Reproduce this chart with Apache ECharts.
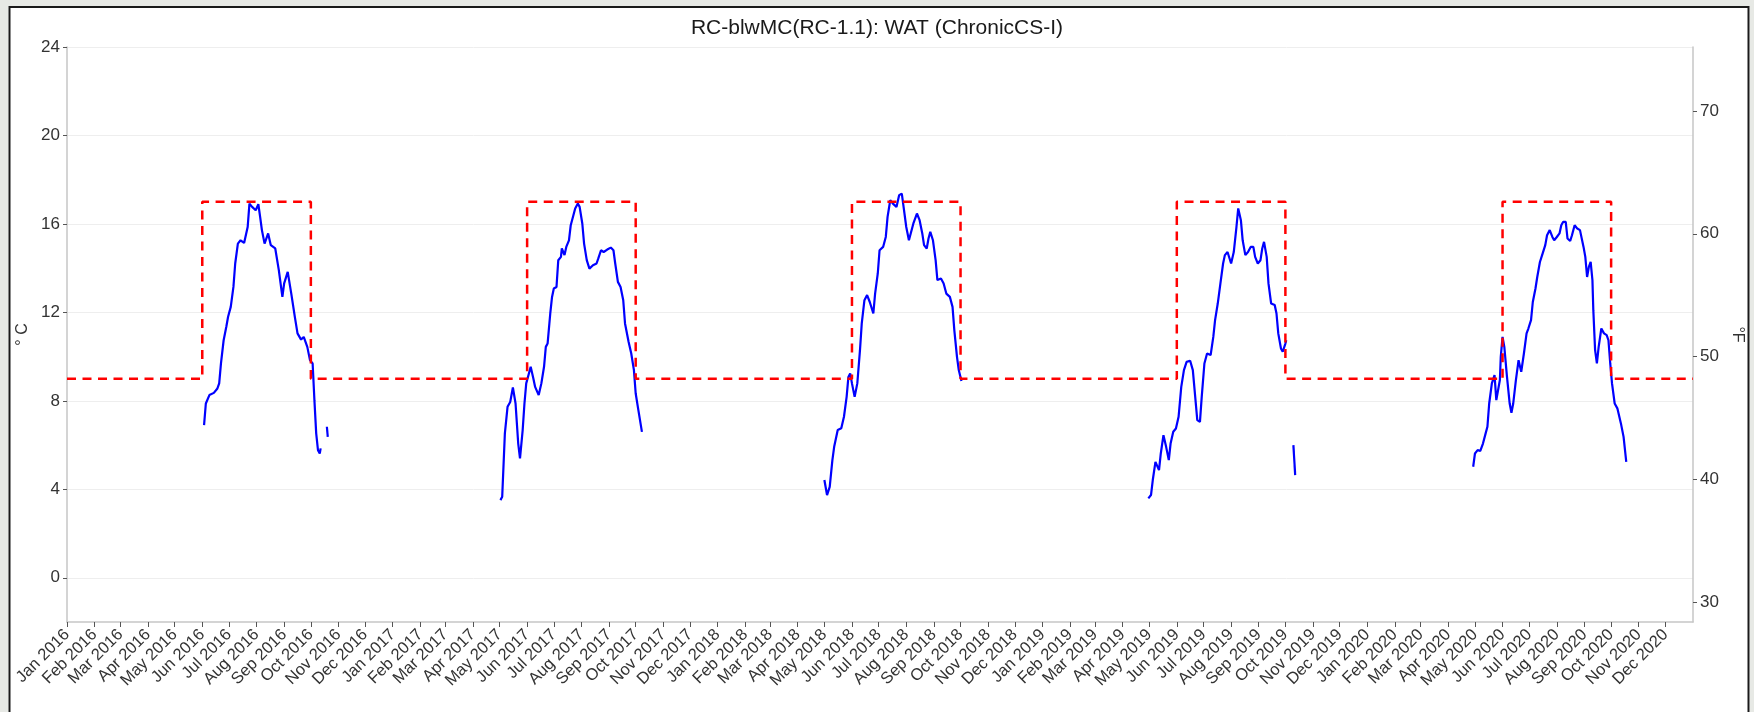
<!DOCTYPE html>
<html>
<head>
<meta charset="utf-8">
<script src="https://cdn.jsdelivr.net/npm/echarts@6/dist/echarts.min.js"></script>
<style>
  html, body { margin: 0; padding: 0; background: #ffffff; }
  #chart { width: 1754px; height: 712px; }
</style>
</head>
<body>
<div id="chart"></div>
<script>
// Daily water temperature (°C), one array per monitoring season
const wat2016 = [
  ['2016-06-03', 6.90], ['2016-06-05', 7.88], ['2016-06-09', 8.26], ['2016-06-14', 8.36],
  ['2016-06-18', 8.56], ['2016-06-20', 8.79], ['2016-06-22', 9.69], ['2016-06-25', 10.74],
  ['2016-06-28', 11.35], ['2016-06-30', 11.80], ['2016-07-03', 12.25], ['2016-07-06', 13.15],
  ['2016-07-08', 14.21], ['2016-07-11', 15.11], ['2016-07-14', 15.26], ['2016-07-18', 15.14],
  ['2016-07-22', 15.86], ['2016-07-24', 16.92], ['2016-07-27', 16.77], ['2016-07-31', 16.62],
  ['2016-08-03', 16.89], ['2016-08-05', 16.32], ['2016-08-07', 15.72], ['2016-08-10', 15.11],
  ['2016-08-14', 15.57], ['2016-08-17', 15.04], ['2016-08-22', 14.89], ['2016-08-26', 13.91],
  ['2016-08-30', 12.70], ['2016-09-01', 13.31], ['2016-09-05', 13.83], ['2016-09-09', 12.85],
  ['2016-09-13', 11.80], ['2016-09-16', 11.05], ['2016-09-20', 10.77], ['2016-09-23', 10.89],
  ['2016-09-27', 10.44], ['2016-09-30', 9.84], ['2016-10-03', 9.69], ['2016-10-05', 8.03],
  ['2016-10-07', 6.53], ['2016-10-09', 5.77], ['2016-10-11', 5.62], ['2016-10-12', 5.85]
];
const wat2016Tail = [['2016-10-19', 6.83], ['2016-10-20', 6.37]];

const wat2017 = [
  ['2017-05-02', 3.51], ['2017-05-04', 3.66], ['2017-05-07', 6.53], ['2017-05-10', 7.73],
  ['2017-05-13', 7.95], ['2017-05-16', 8.61], ['2017-05-19', 7.88], ['2017-05-22', 6.07],
  ['2017-05-24', 5.40], ['2017-05-27', 6.68], ['2017-05-29', 7.88], ['2017-05-31', 8.79],
  ['2017-06-03', 9.24], ['2017-06-05', 9.54], ['2017-06-08', 9.01], ['2017-06-10', 8.63],
  ['2017-06-14', 8.26], ['2017-06-17', 8.79], ['2017-06-20', 9.54], ['2017-06-22', 10.44],
  ['2017-06-24', 10.59], ['2017-06-27', 11.95], ['2017-06-29', 12.70], ['2017-07-01', 13.08],
  ['2017-07-04', 13.15], ['2017-07-06', 14.36], ['2017-07-09', 14.51], ['2017-07-10', 14.89],
  ['2017-07-13', 14.59], ['2017-07-15', 14.96], ['2017-07-18', 15.26], ['2017-07-20', 15.94],
  ['2017-07-23', 16.39], ['2017-07-25', 16.70], ['2017-07-28', 16.92], ['2017-07-30', 16.77],
  ['2017-08-02', 16.02], ['2017-08-04', 15.11], ['2017-08-07', 14.36], ['2017-08-10', 13.98],
  ['2017-08-14', 14.13], ['2017-08-18', 14.21], ['2017-08-20', 14.44], ['2017-08-23', 14.81],
  ['2017-08-26', 14.73], ['2017-08-30', 14.84], ['2017-09-03', 14.93], ['2017-09-06', 14.81],
  ['2017-09-08', 14.21], ['2017-09-11', 13.38], ['2017-09-14', 13.15], ['2017-09-17', 12.55],
  ['2017-09-19', 11.50], ['2017-09-23', 10.67], ['2017-09-26', 10.14], ['2017-09-29', 9.39],
  ['2017-10-01', 8.33], ['2017-10-04', 7.58], ['2017-10-08', 6.60]
];

const wat2018 = [
  ['2018-05-01', 4.42], ['2018-05-04', 3.74], ['2018-05-07', 4.11], ['2018-05-10', 5.32],
  ['2018-05-12', 5.92], ['2018-05-16', 6.68], ['2018-05-20', 6.76], ['2018-05-23', 7.28],
  ['2018-05-26', 8.18], ['2018-05-28', 9.08], ['2018-05-30', 9.24], ['2018-06-01', 8.79],
  ['2018-06-04', 8.18], ['2018-06-07', 8.79], ['2018-06-10', 10.29], ['2018-06-12', 11.50],
  ['2018-06-15', 12.55], ['2018-06-18', 12.78], ['2018-06-21', 12.47], ['2018-06-25', 11.95],
  ['2018-06-27', 12.85], ['2018-06-30', 13.76], ['2018-07-02', 14.81], ['2018-07-06', 14.96],
  ['2018-07-09', 15.41], ['2018-07-11', 16.32], ['2018-07-14', 17.07], ['2018-07-17', 16.92],
  ['2018-07-21', 16.77], ['2018-07-24', 17.30], ['2018-07-27', 17.37], ['2018-07-29', 16.77],
  ['2018-08-01', 15.86], ['2018-08-04', 15.26], ['2018-08-06', 15.19], ['2018-08-09', 16.02],
  ['2018-08-13', 16.47], ['2018-08-16', 16.17], ['2018-08-19', 15.57], ['2018-08-21', 15.04],
  ['2018-08-24', 14.89], ['2018-08-26', 15.34], ['2018-08-28', 15.64], ['2018-08-31', 15.26],
  ['2018-09-03', 14.36], ['2018-09-05', 13.46], ['2018-09-09', 13.53], ['2018-09-12', 13.31],
  ['2018-09-15', 12.85], ['2018-09-19', 12.70], ['2018-09-22', 12.25], ['2018-09-24', 11.20],
  ['2018-09-27', 9.99], ['2018-09-29', 9.39], ['2018-10-02', 8.90]
];

const wat2019 = [
  ['2019-04-30', 3.59], ['2019-05-03', 3.74], ['2019-05-05', 4.42], ['2019-05-08', 5.24],
  ['2019-05-12', 4.87], ['2019-05-14', 5.62], ['2019-05-17', 6.45], ['2019-05-20', 5.92],
  ['2019-05-23', 5.32], ['2019-05-25', 6.07], ['2019-05-28', 6.60], ['2019-05-31', 6.75],
  ['2019-06-03', 7.28], ['2019-06-06', 8.63], ['2019-06-09', 9.39], ['2019-06-12', 9.76],
  ['2019-06-16', 9.81], ['2019-06-19', 9.39], ['2019-06-22', 8.03], ['2019-06-24', 7.13],
  ['2019-06-27', 7.05], ['2019-06-29', 8.18], ['2019-07-02', 9.69], ['2019-07-05', 10.14],
  ['2019-07-09', 10.07], ['2019-07-12', 10.89], ['2019-07-14', 11.65], ['2019-07-17', 12.40],
  ['2019-07-20', 13.31], ['2019-07-23', 14.21], ['2019-07-25', 14.59], ['2019-07-28', 14.73],
  ['2019-08-01', 14.21], ['2019-08-04', 14.73], ['2019-08-07', 15.86], ['2019-08-09', 16.70],
  ['2019-08-12', 16.17], ['2019-08-14', 15.26], ['2019-08-17', 14.59], ['2019-08-20', 14.73],
  ['2019-08-23', 14.96], ['2019-08-26', 14.96], ['2019-08-28', 14.51], ['2019-08-31', 14.21],
  ['2019-09-03', 14.36], ['2019-09-05', 14.89], ['2019-09-07', 15.19], ['2019-09-10', 14.51],
  ['2019-09-12', 13.31], ['2019-09-15', 12.40], ['2019-09-19', 12.33], ['2019-09-21', 11.95],
  ['2019-09-23', 11.05], ['2019-09-26', 10.37], ['2019-09-28', 10.22], ['2019-10-01', 10.59],
  ['2019-10-02', 10.74]
];
const wat2019Tail = [['2019-10-10', 6.00], ['2019-10-12', 4.64]];

const wat2020 = [
  ['2020-04-29', 5.02], ['2020-05-01', 5.62], ['2020-05-04', 5.77], ['2020-05-07', 5.74],
  ['2020-05-10', 6.07], ['2020-05-13', 6.53], ['2020-05-15', 6.83], ['2020-05-17', 7.88],
  ['2020-05-20', 8.79], ['2020-05-23', 9.16], ['2020-05-25', 8.03], ['2020-05-27', 7.95],
  ['2020-05-29', 8.94], ['2020-05-30', 9.99], ['2020-06-01', 10.89], ['2020-06-03', 10.44],
  ['2020-06-06', 9.08], ['2020-06-09', 7.88], ['2020-06-11', 7.46], ['2020-06-13', 7.88],
  ['2020-06-16', 8.94], ['2020-06-19', 9.84], ['2020-06-22', 9.31], ['2020-06-25', 10.14],
  ['2020-06-28', 11.05], ['2020-06-30', 11.27], ['2020-07-03', 11.65], ['2020-07-05', 12.47],
  ['2020-07-08', 13.08], ['2020-07-10', 13.60], ['2020-07-13', 14.28], ['2020-07-16', 14.66],
  ['2020-07-19', 15.04], ['2020-07-21', 15.49], ['2020-07-24', 15.72], ['2020-07-27', 15.41],
  ['2020-07-29', 15.26], ['2020-08-01', 15.41], ['2020-08-04', 15.57], ['2020-08-06', 15.94],
  ['2020-08-08', 16.09], ['2020-08-11', 16.09], ['2020-08-13', 15.34], ['2020-08-16', 15.23],
  ['2020-08-18', 15.49], ['2020-08-21', 15.94], ['2020-08-24', 15.79], ['2020-08-27', 15.72],
  ['2020-08-29', 15.64], ['2020-08-31', 14.96], ['2020-09-02', 14.51], ['2020-09-04', 13.60],
  ['2020-09-06', 14.06], ['2020-09-08', 14.28], ['2020-09-10', 13.46], ['2020-09-11', 12.10],
  ['2020-09-13', 10.29], ['2020-09-15', 9.69], ['2020-09-17', 10.44], ['2020-09-20', 11.27],
  ['2020-09-23', 11.05], ['2020-09-26', 10.97], ['2020-09-28', 10.74], ['2020-09-30', 9.69],
  ['2020-10-02', 8.79], ['2020-10-05', 7.88], ['2020-10-08', 7.66], ['2020-10-10', 7.58],
  ['2020-10-12', 6.98], ['2020-10-15', 6.37], ['2020-10-18', 5.24]
];

// Chronic criterion: 17 °C from June through September, 9 °C otherwise
const criterionDates = [
  '2016-01-01', '2016-06-01', '2016-10-01',
  '2017-06-01', '2017-10-01',
  '2018-06-01', '2018-10-01',
  '2019-06-01', '2019-10-01',
  '2020-06-01', '2020-10-01',
  '2021-01-01'
];
const criterionValues = [9, 17, 9, 17, 9, 17, 9, 17, 9, 17, 9, 9];

// Axis ticks
const celsiusTicks = [0, 4, 8, 12, 16, 20, 24];
const fahrenheitTicks = [30, 40, 50, 60, 70];
const tickYears = [2016, 2017, 2018, 2019, 2020];
const monthNames = ['Jan', 'Feb', 'Mar', 'Apr', 'May', 'Jun', 'Jul', 'Aug', 'Sep', 'Oct', 'Nov', 'Dec'];

const cMin = -2, cMax = 24;
const toF = c => c * 9 / 5 + 32;

// dates are placed on a numeric axis as local-time timestamps
const toTime = s => {
  const p = s.split('-').map(Number);
  return new Date(p[0], p[1] - 1, p[2]).getTime();
};

const monthTicks = [];
tickYears.forEach(y => {
  for (let m = 0; m < 12; m++) monthTicks.push(new Date(y, m, 1).getTime());
});

const FONT = '"Liberation Sans", Arial, sans-serif';
const TEXT = '#333333';
const AXIS_LINE = '#c6c6c6';
const TICK = '#555555';

const watSegments = [wat2016, wat2016Tail, wat2017, wat2018, wat2019, wat2019Tail, wat2020];

const chart = echarts.init(document.getElementById('chart'), null, { renderer: 'canvas' });

const option = {
  backgroundColor: '#ffffff',
  animation: false,
  textStyle: { fontFamily: FONT },
  title: {
    text: 'RC-blwMC(RC-1.1): WAT (ChronicCS-I)',
    left: 'center',
    top: 13,
    textStyle: { fontFamily: FONT, fontSize: 21, fontWeight: 'normal', color: '#1a1a1a' }
  },
  graphic: [
    // light surround and dark frame around the figure
    { type: 'rect', silent: true, shape: { x: 0, y: 0, width: 1754, height: 6 }, style: { fill: '#e7e9e5' } },
    { type: 'rect', silent: true, shape: { x: 0, y: 0, width: 8.5, height: 712 }, style: { fill: '#e7e9e5' } },
    { type: 'rect', silent: true, shape: { x: 1749.5, y: 0, width: 4.5, height: 712 }, style: { fill: '#e7e9e5' } },
    { type: 'polyline', silent: true, shape: { points: [[9.5, 714], [9.5, 7], [1748.5, 7], [1748.5, 714]] },
      style: { stroke: '#1a1a1a', lineWidth: 2, fill: null } }
  ],
  grid: {
    left: 67,
    right: 61,
    top: 47,
    bottom: 90,
    outerBoundsMode: 'none'
  },
  xAxis: {
    type: 'value',
    min: toTime('2016-01-01'),
    max: toTime('2021-01-01'),
    axisLine: { show: true, onZero: false, lineStyle: { color: AXIS_LINE, width: 1.5 } },
    axisTick: { show: true, length: 5, lineStyle: { color: TICK, width: 1 }, customValues: monthTicks },
    axisLabel: {
      customValues: monthTicks,
      rotate: 45,
      margin: 10,
      fontSize: 16.5,
      color: TEXT,
      fontFamily: FONT,
      showMinLabel: true,
      showMaxLabel: true,
      formatter: value => {
        const d = new Date(value);
        return monthNames[d.getMonth()] + ' ' + d.getFullYear();
      }
    },
    splitLine: { show: false }
  },
  yAxis: [
    {
      type: 'value',
      position: 'left',
      min: cMin,
      max: cMax,
      name: '° C',
      nameLocation: 'middle',
      nameRotate: 90,
      nameGap: 33,
      nameTextStyle: { fontFamily: FONT, fontSize: 16, color: TEXT },
      axisLine: { show: true, lineStyle: { color: AXIS_LINE, width: 1.5 } },
      axisTick: { show: true, length: 4, lineStyle: { color: TICK }, customValues: celsiusTicks },
      axisLabel: { customValues: celsiusTicks, fontSize: 17, color: TEXT, margin: 7, fontFamily: FONT },
      splitLine: { show: true, lineStyle: { color: '#eeeeee', width: 1 } }
    },
    {
      type: 'value',
      position: 'right',
      min: toF(cMin),
      max: toF(cMax),
      name: '°F',
      nameLocation: 'middle',
      nameRotate: -90,
      nameGap: 22,
      nameTextStyle: { fontFamily: FONT, fontSize: 16, color: TEXT },
      axisLine: { show: true, lineStyle: { color: AXIS_LINE, width: 1.5 } },
      axisTick: { show: true, length: 4, lineStyle: { color: TICK }, customValues: fahrenheitTicks },
      axisLabel: { customValues: fahrenheitTicks, fontSize: 17, color: TEXT, margin: 7, fontFamily: FONT },
      splitLine: { show: false }
    }
  ],
  series: [
    ...watSegments.map(seg => ({
      type: 'line',
      name: 'WAT',
      yAxisIndex: 0,
      data: seg.map(p => [toTime(p[0]), p[1]]),
      showSymbol: false,
      symbol: 'none',
      smooth: false,
      lineStyle: { color: '#0000ff', width: 2.2 },
      z: 3
    })),
    {
      type: 'line',
      name: 'Criterion',
      yAxisIndex: 0,
      step: 'end',
      data: criterionDates.map((d, i) => [toTime(d), criterionValues[i]]),
      showSymbol: false,
      symbol: 'none',
      lineStyle: { color: '#ff0000', width: 2.5, type: [9, 6.5] },
      z: 4
    }
  ]
};

chart.setOption(option);
</script>
</body>
</html>
